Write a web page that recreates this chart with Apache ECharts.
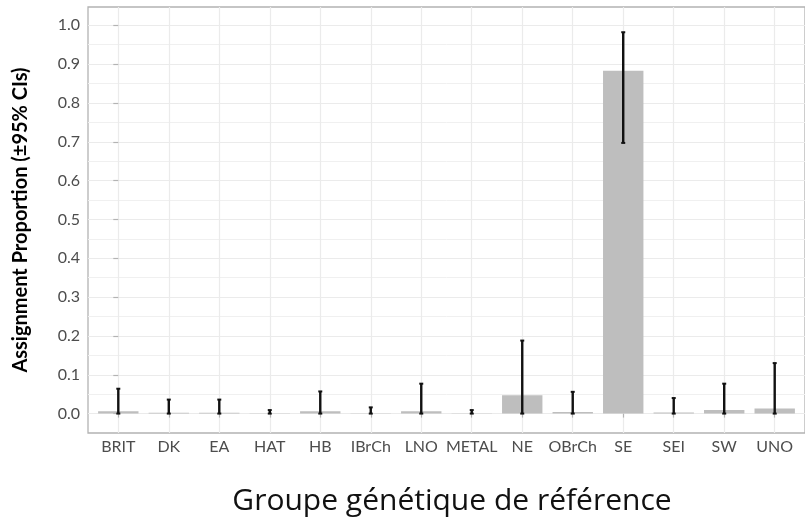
<!DOCTYPE html>
<html>
<head>
<meta charset="utf-8">
<script src="https://cdn.jsdelivr.net/npm/echarts@6/dist/echarts.min.js"></script>
<style>html,body{margin:0;padding:0;background:#fff;}#chart{width:805px;height:520px;}</style>
</head>
<body>
<div id="chart"></div>
<script>
var categories = ['BRIT','DK','EA','HAT','HB','IBrCh','LNO','METAL','NE','OBrCh','SE','SEI','SW','UNO'];
var proportions = [0.006,0.002,0.002,0.001,0.006,0.001,0.006,0.001,0.047,0.004,0.883,0.003,0.009,0.013];
var lowerCI = [0,0,0,0,0,0,0,0,0,0,0.697,0,0,0];
var upperCI = [0.064,0.036,0.036,0.009,0.057,0.016,0.077,0.009,0.188,0.056,0.982,0.040,0.077,0.130];
var yTicks = [0,0.1,0.2,0.3,0.4,0.5,0.6,0.7,0.8,0.9,1.0];
var yMinorTicks = [0.05,0.15,0.25,0.35,0.45,0.55,0.65,0.75,0.85,0.95];

var xPositions = categories.map(function(c,i){return i;});
var rows = categories.map(function(c,i){return [i, proportions[i], lowerCI[i], upperCI[i]];});

var chart = echarts.init(document.getElementById('chart'), null, {renderer:'canvas'});
var labelFont = 'Lato';
chart.setOption({
  animation:false,
  backgroundColor:'#ffffff',
  grid:{left:88, top:7, width:724, height:426, show:true, borderColor:'#b3b3b3', borderWidth:1.3, backgroundColor:'#ffffff', containLabel:false},
  xAxis:{
    type:'value', min:-0.6, max:13.6,
    axisLine:{show:false},
    axisTick:{show:true, length:4, lineStyle:{color:'#b3b3b3', width:1.2}, customValues:xPositions},
    axisLabel:{show:true, customValues:xPositions, margin:6, color:'#4d4d4d', fontFamily:labelFont, fontSize:16,
      formatter:function(v){return categories[Math.round(v)];}},
    splitLine:{show:true, lineStyle:{color:'#ebebeb', width:1.2}}
  },
  yAxis:[{
    type:'value', min:-0.05, max:1.047,
    axisLine:{show:false},
    axisTick:{show:true, length:5, lineStyle:{color:'#b3b3b3', width:1.2}, customValues:yTicks},
    axisLabel:{show:true, customValues:yTicks, margin:8, color:'#4d4d4d', fontFamily:labelFont, fontSize:16,
      formatter:function(v){return v.toFixed(1);}},
    splitLine:{show:true, lineStyle:{color:'#ebebeb', width:1.2}},
    name:'Assignment Proportion (±95% CIs)', nameLocation:'middle', nameGap:57,
    nameTextStyle:{fontFamily:labelFont, fontWeight:'bold', fontSize:20, color:'#000'}
  },{
    type:'value', min:-0.05, max:1.047, position:'left',
    axisLine:{show:false},
    axisTick:{show:false, customValues:yMinorTicks},
    axisLabel:{show:false, customValues:yMinorTicks},
    splitLine:{show:true, lineStyle:{color:'#f0f0f0', width:1}}
  }],
  series:[{
    type:'custom',
    coordinateSystem:'cartesian2d',
    data:rows,
    encode:{x:0, y:[1,2,3]},
    renderItem:function(params, api){
      var x = api.value(0), v = api.value(1), lo = api.value(2), hi = api.value(3);
      var unit = api.size([1,0])[0];
      var base = api.coord([x, 0]);
      var top = api.coord([x, v]);
      var bw = unit*0.8;
      var pLo = api.coord([x, lo]);
      var pHi = api.coord([x, hi]);
      var cap = 2;
      return {type:'group', children:[
        {type:'rect', shape:{x:base[0]-bw/2, y:top[1], width:bw, height:Math.max(base[1]-top[1], 0)}, style:{fill:'#bebebe'}},
        {type:'line', shape:{x1:pLo[0], y1:pLo[1], x2:pHi[0], y2:pHi[1]}, style:{stroke:'#111111', lineWidth:2.4}},
        {type:'line', shape:{x1:pLo[0]-cap, y1:pLo[1], x2:pLo[0]+cap, y2:pLo[1]}, style:{stroke:'#111111', lineWidth:2}},
        {type:'line', shape:{x1:pHi[0]-cap, y1:pHi[1], x2:pHi[0]+cap, y2:pHi[1]}, style:{stroke:'#111111', lineWidth:2}}
      ]};
    }
  }],
  graphic:[{
    type:'text', x:452, y:516,
    style:{text:'Groupe génétique de référence', fontFamily:'Open Sans', fontSize:30, fill:'#111111', textAlign:'center', textVerticalAlign:'bottom'}
  }]
});
</script>
</body>
</html>
